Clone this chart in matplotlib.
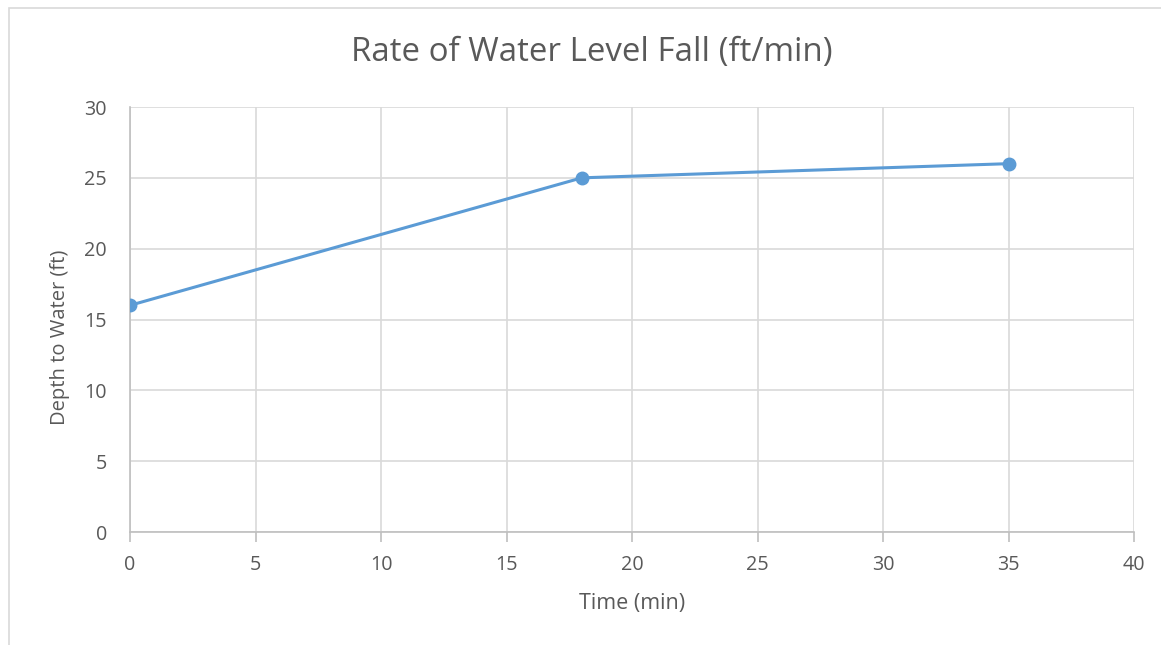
import matplotlib
matplotlib.use("Agg")
import matplotlib.pyplot as plt
from matplotlib.patches import Rectangle

time_min = [0, 18, 35]
depth_ft = [16, 25, 26]
x_ticks = [0, 5, 10, 15, 20, 25, 30, 35, 40]
y_ticks = [0, 5, 10, 15, 20, 25, 30]

plt.rcParams['font.family'] = ['Open Sans', 'DejaVu Sans']
txt = '#595959'
grid = '#d9d9d9'

fig = plt.figure(figsize=(11.61, 6.45), dpi=100)
fig.patches.append(Rectangle((9/1161, -0.1), 1.2, 1 - 8/645 + 0.1, transform=fig.transFigure,
                             fill=False, edgecolor='#d9d9d9', linewidth=1.2))
ax = fig.add_axes([130/1161, 1 - 532/645, (1134 - 130)/1161, (532 - 107)/645])
ax.plot(time_min, depth_ft, color='#5b9bd5', linewidth=2.2, marker='o',
        markersize=9, markerfacecolor='#5b9bd5', markeredgecolor='#5b9bd5', zorder=3)
ax.set_xlim(0, 40)
ax.set_ylim(0, 30)
ax.set_xticks(x_ticks)
ax.set_yticks(y_ticks)
ax.grid(True, color=grid, linewidth=1.2)
ax.set_axisbelow(True)
for s in ['top', 'right']:
    ax.spines[s].set_visible(False)
for s in ['left', 'bottom']:
    ax.spines[s].set_color('#bfbfbf')
    ax.spines[s].set_linewidth(1.2)
ax.tick_params(axis='x', length=7, width=1.2, color='#bfbfbf', labelcolor=txt, labelsize=14.2, pad=9.5)
ax.tick_params(axis='y', length=0, labelcolor=txt, labelsize=14.2, pad=16.5)
ax.set_xlabel('Time (min)', color=txt, fontsize=15.5)
ax.set_ylabel('Depth to Water (ft)', color=txt, fontsize=14.5)
ax.xaxis.set_label_coords(0.5, -(603 - 532) / (532 - 107), transform=ax.transAxes)
ax.xaxis.label.set_va('center')
ax.yaxis.set_label_coords(-(130 - 60) / (1134 - 130), (532 - 337) / (532 - 107))
ax.yaxis.label.set_va('center')
fig.text(592/1161, 1 - 52/645, 'Rate of Water Level Fall (ft/min)', ha='center', va='center',
         color=txt, fontsize=23.8)
fig.savefig('out.png', dpi=100)
